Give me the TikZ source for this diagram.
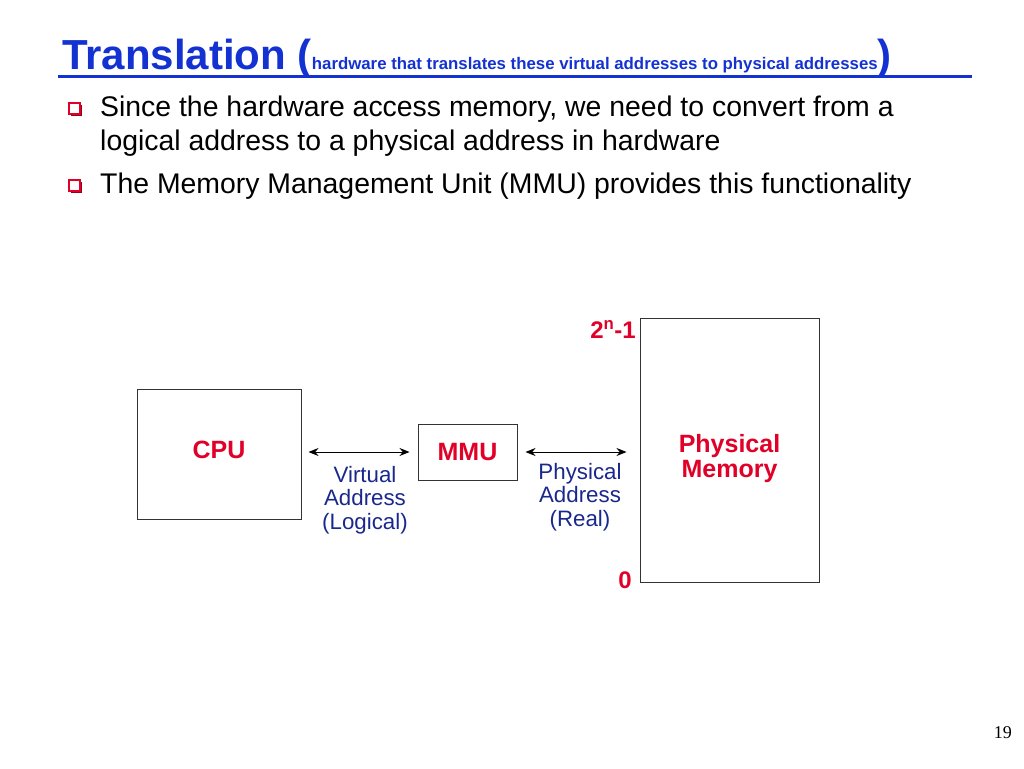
\documentclass[tikz,border=0pt]{standalone}
\usepackage{fontspec}
\setmainfont{Liberation Sans}
\newfontfamily\pagefont{Liberation Serif}
\usetikzlibrary{arrows.meta,positioning,shadows}
\definecolor{TitleBlue}{RGB}{20,50,210}
\definecolor{SlideRed}{RGB}{225,0,40}
\definecolor{LabelBlue}{RGB}{25,40,140}
\newcommand{\Fsize}[2]{\fontsize{#1}{#2}\selectfont}
\tikzset{Box/.style={
    draw=black!80,
    line width=1pt,
    inner sep=0pt,
    align=center,
    text=SlideRed,
    font=\Fsize{25}{25}\bfseries,
    }
}

\begin{document}
\begin{tikzpicture}[x=1pt, y=-1pt,
    Bullet/.style={draw=SlideRed, fill=white, line width=1.5pt, minimum size=11pt, inner sep=0pt,
      drop shadow={shadow xshift=1.5pt, shadow yshift=-1.5pt, fill=SlideRed!65!black, opacity=1}},
    Item/.style={anchor=base west, inner sep=0pt, font=\Fsize{28.4}{34}},
    Label/.style={anchor=north, align=center, inner sep=0pt, text=LabelBlue, font=\Fsize{22.3}{23.5}},
    Mark/.style={anchor=east, inner sep=0pt, text=SlideRed, font=\Fsize{24}{26}\bfseries},
    Link/.style={line width=1pt, {Stealth[length=10pt,width=8pt]}-{Stealth[length=10pt,width=8pt]}},
]
\useasboundingbox (0,0) rectangle (1024,768);
% title
\node [anchor=base west, inner sep=0pt, text=TitleBlue, font=\bfseries] (title) at (62,70)
  {\Fsize{42}{46}Translation (\Fsize{16.8}{18}hardware that translates these virtual addresses to physical addresses\Fsize{42}{46})};
\draw [TitleBlue, line width=3pt] (58,76) -- (972,76);
% bullets
\node [Bullet] (b1) at (74.5,108.5) {};
\node [Item] (t1) at (100,116) {Since the hardware access memory, we need to convert from a};
\node [Item] (t1b) at (100,150) {logical address to a physical address in hardware};
\node [Bullet] (b2) at (74.5,185.5) {};
\node [Item] (t2) at (100,193) {The Memory Management Unit (MMU) provides this functionality};
% diagram
\node [Box, minimum width=164pt, minimum height=130pt,
  label={[Box, draw=none, yshift=4pt]center:CPU}] (cpu) at (219,454) {};
\node [Box, minimum width=99pt, minimum height=56pt] (mmu) at (467.5,452) {MMU};
\node [Box, minimum width=179pt, minimum height=264pt,
  label={[Box, draw=none, yshift=-9pt]center:Physical\\Memory}] (mem) at (729.5,450) {};
\draw [Link] ([xshift=7pt]cpu.east |- mmu.west) -- ([xshift=-8pt]mmu.west);
\draw [Link] ([xshift=8pt]mmu.east) -- ([xshift=-13pt]mem.west |- mmu.east);
\node [Label] (virt) at (365,466) {Virtual\\Address\\(Logical)};
\node [Label] (phys) at (580,463) {Physical\\Address\\(Real)};
\node [Mark] (top) at (636,329) {2\textsuperscript{n}-1};
\node [Mark] (bot) at (632,580) {0};
\node [anchor=base east, inner sep=0pt, font=\pagefont\Fsize{18}{20}] (page) at (1012,738) {19};
\end{tikzpicture}
\end{document}
